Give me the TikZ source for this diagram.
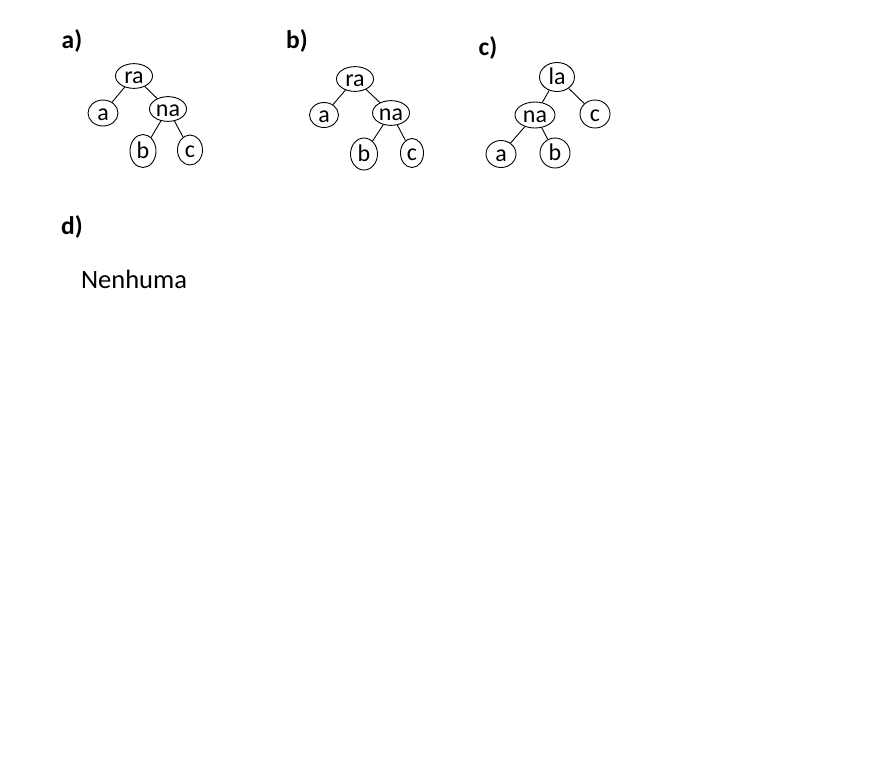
\documentclass[tikz,border=0pt]{standalone}
\usepackage{fontspec}
\setmainfont{Carlito}
\usetikzlibrary{positioning}
\usetikzlibrary{shapes.geometric}

\tikzset{
  tnode/.style={ellipse, draw, line width=0.9pt, inner sep=0pt,
    text height=16.5pt, text depth=1pt, font=\fontsize{24}{27}\selectfont},
  wide/.style={minimum width=37pt, minimum height=22pt},
  tall/.style={minimum width=27pt, minimum height=32pt},
  roundish/.style={minimum width=30pt, minimum height=27pt},
  part/.style={font=\fontsize{25.5}{29}\selectfont\bfseries},
  edge/.style={line width=0.9pt},
}

\begin{document}
\begin{tikzpicture}[x=1pt, y=-1pt]
    \useasboundingbox (0,0) rectangle (878,780);

    % a)
    \node[part] (la) at (72, 41) {a)};
    \node[tnode, wide] (raA) at (134, 76) {ra};
    \node[tnode, roundish, minimum height=26pt] (aA) at (103, 113) {a};
    \node[tnode, wide] (naA) at (168, 109) {na};
    \node[tnode, tall, minimum width=26pt, minimum height=33pt] (bA) at (143, 151) {b};
    \node[tnode, tall, minimum width=25pt, minimum height=30pt] (cA) at (190, 150) {c};
    \draw[edge] (raA) -- (aA);
    \draw[edge] (raA) -- (naA);
    \draw[edge] (naA) -- (bA);
    \draw[edge] (naA) -- (cA);

    % b)
    \node[part] (lb) at (297, 41) {b)};
    \node[tnode, wide] (raB) at (355, 79) {ra};
    \node[tnode, roundish, minimum width=29pt, minimum height=25pt] (aB) at (324, 115) {a};
    \node[tnode, wide, minimum height=21pt] (naB) at (391, 113) {na};
    \node[tnode, tall] (bB) at (364, 154) {b};
    \node[tnode, tall, minimum width=23pt, minimum height=29pt] (cB) at (412, 153) {c};
    \draw[edge] (raB) -- (aB);
    \draw[edge] (raB) -- (naB);
    \draw[edge] (naB) -- (bB);
    \draw[edge] (naB) -- (cB);

    % c)
    \node[part] (lc) at (488, 48) {c)};
    \node[tnode, roundish, minimum width=35pt, minimum height=29pt] (laC) at (557, 77) {la};
    \node[tnode, roundish, minimum width=40pt, minimum height=26pt] (naC) at (535, 115) {na};
    \node[tnode, roundish, minimum height=28pt] (cC) at (595, 114) {c};
    \node[tnode, roundish] (aC) at (501, 154) {a};
    \node[tnode, roundish, minimum height=30pt] (bC) at (555, 153) {b};
    \draw[edge] (laC) -- (naC);
    \draw[edge] (laC) -- (cC);
    \draw[edge] (naC) -- (aC);
    \draw[edge] (naC) -- (bC);

    % d)
    \node[part] (ld) at (72, 227) {d)};
    \node[font=\fontsize{26.5}{31}\selectfont] (none) at (134, 279) {Nenhuma};
\end{tikzpicture}
\end{document}
